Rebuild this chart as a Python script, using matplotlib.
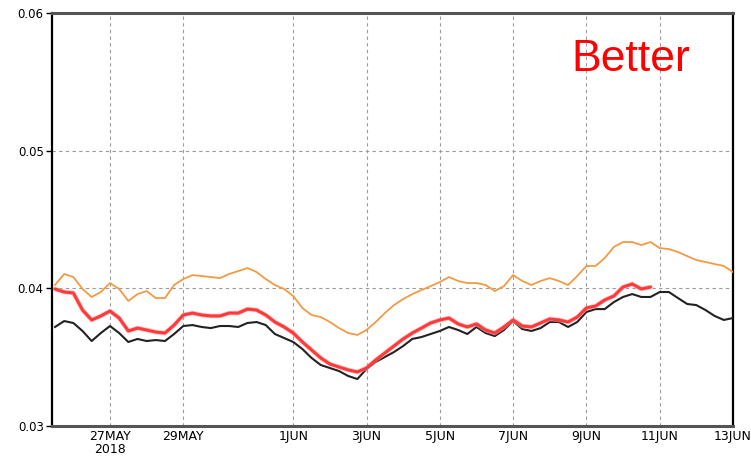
import matplotlib
matplotlib.use("Agg")
import matplotlib.pyplot as plt
import pandas as pd

# 6-hourly series starting 2018-05-25 12Z
start = "2018-05-25 12:00"
step = "6h"

orange_vals = [
    0.04024, 0.04104, 0.04082, 0.03995, 0.03937, 0.03973, 0.04038, 0.03995, 0.03908, 0.03958,
    0.03980, 0.03929, 0.03929, 0.04024, 0.04067, 0.04096, 0.04089, 0.04082, 0.04074, 0.04104,
    0.04125, 0.04147, 0.04118, 0.04067, 0.04024, 0.03995, 0.03944, 0.03857, 0.03806, 0.03791,
    0.03755, 0.03711, 0.03675, 0.03661, 0.03697, 0.03755, 0.03820, 0.03878, 0.03922, 0.03958,
    0.03987, 0.04016, 0.04045, 0.04082, 0.04053, 0.04038, 0.04038, 0.04024, 0.03980, 0.04016,
    0.04096, 0.04053, 0.04024, 0.04053, 0.04074, 0.04053, 0.04024, 0.04089, 0.04162, 0.04162,
    0.04220, 0.04300, 0.04336, 0.04336, 0.04314, 0.04336, 0.04292, 0.04285, 0.04263, 0.04234,
    0.04205, 0.04191, 0.04176, 0.04162, 0.04118,
]

red_vals = [
    0.03995, 0.03973, 0.03966, 0.03842, 0.03770, 0.03799, 0.03835, 0.03784, 0.03690, 0.03711,
    0.03697, 0.03682, 0.03675, 0.03733, 0.03806, 0.03820, 0.03806, 0.03799, 0.03799, 0.03820,
    0.03820, 0.03849, 0.03842, 0.03806, 0.03755, 0.03719, 0.03675, 0.03610, 0.03552, 0.03494,
    0.03450, 0.03428, 0.03407, 0.03392, 0.03421, 0.03479, 0.03530, 0.03581, 0.03632, 0.03675,
    0.03711, 0.03748, 0.03770, 0.03784, 0.03741, 0.03719, 0.03741, 0.03697, 0.03675, 0.03719,
    0.03770, 0.03726, 0.03719, 0.03748, 0.03777, 0.03770, 0.03755, 0.03791, 0.03857, 0.03871,
    0.03915, 0.03944, 0.04009, 0.04031, 0.03995, 0.04009,
]

black_vals = [
    0.03719, 0.03762, 0.03748, 0.03690, 0.03617, 0.03675, 0.03726, 0.03675, 0.03610, 0.03632,
    0.03617, 0.03624, 0.03617, 0.03668, 0.03726, 0.03733, 0.03719, 0.03711, 0.03726, 0.03726,
    0.03719, 0.03748, 0.03755, 0.03733, 0.03668, 0.03639, 0.03610, 0.03559, 0.03494, 0.03443,
    0.03421, 0.03399, 0.03363, 0.03341, 0.03414, 0.03465, 0.03501, 0.03537, 0.03581, 0.03632,
    0.03646, 0.03668, 0.03690, 0.03719, 0.03697, 0.03668, 0.03719, 0.03675, 0.03653, 0.03697,
    0.03762, 0.03704, 0.03690, 0.03711, 0.03755, 0.03755, 0.03719, 0.03755, 0.03828, 0.03849,
    0.03849, 0.03900, 0.03937, 0.03958, 0.03937, 0.03937, 0.03973, 0.03973, 0.03929, 0.03886,
    0.03878, 0.03842, 0.03799, 0.03770, 0.03784,
]

tick_dates = ["2018-05-27", "2018-05-29", "2018-06-01", "2018-06-03", "2018-06-05",
              "2018-06-07", "2018-06-09", "2018-06-11", "2018-06-13"]
tick_labels = ["27MAY\n2018", "29MAY", "1JUN", "3JUN", "5JUN", "7JUN", "9JUN", "11JUN", "13JUN"]
y_ticks = [0.03, 0.04, 0.05, 0.06]
y_labels = ["0.03", "0.04", "0.05", "0.06"]

times_full = pd.date_range(start, periods=len(black_vals), freq=step)

fig = plt.figure(figsize=(7.51, 4.63), dpi=100)
ax = fig.add_axes([0.0692, 0.080, 0.9068, 0.892])

ax.plot(times_full[:len(orange_vals)], orange_vals, color="#f39a45", lw=1.3, zorder=3)
ax.plot(times_full[:len(black_vals)], black_vals, color="#222222", lw=1.5, zorder=4)
ax.plot(times_full[:len(red_vals)], red_vals, color="#ff9a9a", lw=3.3, alpha=0.6, zorder=5,
        solid_capstyle="round")
ax.plot(times_full[:len(red_vals)], red_vals, color="#ff3a3a", lw=2.2, zorder=6,
        solid_capstyle="round")

ax.set_xlim(pd.Timestamp("2018-05-25 10:00"), pd.Timestamp("2018-06-13 00:00"))
ax.set_ylim(0.03, 0.06)

ax.set_xticks(pd.to_datetime(tick_dates))
ax.set_xticklabels(tick_labels, family=["Liberation Sans Narrow", "DejaVu Sans"],
                   fontsize=9, linespacing=1.0)
ax.set_yticks(y_ticks)
ax.set_yticklabels(y_labels, fontsize=8.5)
ax.tick_params(axis="x", length=0, pad=3)
ax.tick_params(axis="y", length=4, width=1, direction="out", pad=2)

ax.grid(True, color="#9a9a9a", ls=(0, (3, 3)), lw=0.8)
ax.set_axisbelow(True)

for side in ("left", "right"):
    ax.spines[side].set_color("black")
    ax.spines[side].set_linewidth(1.6)
for side in ("top", "bottom"):
    ax.spines[side].set_color("#555555")
    ax.spines[side].set_linewidth(2.2)
    ax.spines[side].set_linestyle((0, (1, 1)))

ax.text(0.762, 0.86, "Better", transform=ax.transAxes, color="red",
        family=["Liberation Sans", "DejaVu Sans"], fontsize=32, ha="left", va="baseline")

fig.savefig("out.png", dpi=100)
